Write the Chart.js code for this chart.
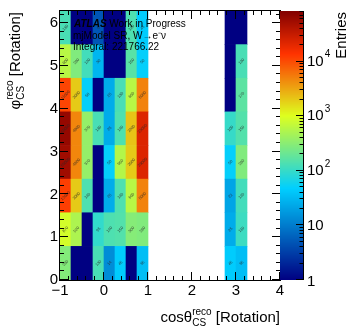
<!DOCTYPE html>
<html>
<head>
<meta charset="utf-8">
<script src="https://cdn.jsdelivr.net/npm/chart.js@4.4.1/dist/chart.umd.min.js"></script>
<style>
  html, body { margin: 0; padding: 0; background: #fff; }
</style>
</head>
<body>
<canvas id="rotation-chart" width="348" height="329"></canvas>
<script>
// cos(theta) bin lower edges, all bins 0.25 wide
const cosLow = [-1, -0.75, -0.5, -0.25, 0, 0.25, 0.5, 0.75, 2.75, 3];
const cosWidth = 0.25;
const phiCount = 8; // phi bins over [0, 2pi]

// entries per phi bin (bottom to top), one value per cos bin
const phiBin1 = [290, 1, 1, 130, 14, 45, 1, 35, 45, 35];
const phiBin2 = [870, 520, 1, 95, 140, 150, 300, 280, 25, 110];
const phiBin3 = [12000, 2000, 140, 1, 25, 140, 600, 5000, 22, 120];
const phiBin4 = [55000, 4800, 370, 1, 50, 560, 2000, 23000, 50, 280];
const phiBin5 = [65000, 4800, 370, 130, 25, 140, 2200, 23000, 100, 150];
const phiBin6 = [11000, 2000, 50, 1, 25, 130, 600, 5000, 1, 170];
const phiBin7 = [600, 280, 120, 30, 1, 1, 160, 50, 1, 130];
const phiBin8 = [130, 1, 1, 5, 1, 1, 140, 45, 1, 1];
const phiBins = [phiBin1, phiBin2, phiBin3, phiBin4, phiBin5, phiBin6, phiBin7, phiBin8];

const xTicks = [-1, 0, 1, 2, 3, 4];
const yTicks = [0, 1, 2, 3, 4, 5, 6];
const zTicks = [1, 10, 100, 1000, 10000];
const zMin = 1;
const zMax = 85000;
const integral = '221766.22';

const FONT = '"Liberation Sans", Arial, sans-serif';

// ATLAS style rainbow palette
const stops = [0.00, 0.34, 0.61, 0.84, 1.00];
const red   = [0.00, 0.00, 0.87, 1.00, 0.51];
const green = [0.00, 0.81, 1.00, 0.20, 0.00];
const blue  = [0.51, 1.00, 0.12, 0.00, 0.00];

function palette(v) {
    let f = Math.log10(Math.max(v, zMin) / zMin) / Math.log10(zMax / zMin);
    f = Math.min(1, Math.max(0, f));
    let k = 0;
    while (k < stops.length - 2 && f > stops[k + 1]) k++;
    const t = (f - stops[k]) / (stops[k + 1] - stops[k]);
    const c = arr => Math.round(255 * (arr[k] + (arr[k + 1] - arr[k]) * t));
    return `rgb(${c(red)},${c(green)},${c(blue)})`;
}

const phiStep = 2 * Math.PI / phiCount;
const datasets = phiBins.map((row, j) => ({
    data: cosLow.map((lo, i) => ({ x: lo + cosWidth / 2, y: [j * phiStep, (j + 1) * phiStep], v: row[i] })),
    backgroundColor: row.map(palette),
    borderWidth: 0,
    barPercentage: 1,
    categoryPercentage: 1,
    grouped: false
}));

// draws text pieces in a row: main, then stacked sup/sub
function drawTitle(ctx, main, x, y, alignRight) {
    const big = `15px ${FONT}`, small = `10px ${FONT}`;
    ctx.font = big;
    const w1 = ctx.measureText(main).width;
    const w3 = ctx.measureText(' [Rotation]').width;
    ctx.font = small;
    const w2 = Math.max(ctx.measureText('reco').width, ctx.measureText('CS').width);
    let px = alignRight ? x - (w1 + w2 + w3) : x;
    ctx.font = big;
    ctx.fillText(main, px, y);
    px += w1;
    ctx.font = small;
    ctx.fillText('reco', px, y - 7);
    ctx.fillText('CS', px, y + 4);
    px += w2;
    ctx.font = big;
    ctx.fillText(' [Rotation]', px, y);
}

const rootLook = {
    id: 'rootLook',
    afterDraw(chart) {
        const { ctx, chartArea: a, scales: { x, y, z } } = chart;
        ctx.save();
        ctx.fillStyle = '#000';
        ctx.strokeStyle = '#000';
        ctx.lineWidth = 1;

        // cell labels
        ctx.font = `4px ${FONT}`;
        ctx.textAlign = 'center';
        ctx.textBaseline = 'middle';
        ctx.fillStyle = 'rgba(40,40,40,0.85)';
        chart.data.datasets.forEach((ds, j) => {
            chart.getDatasetMeta(j).data.forEach((el, i) => {
                const v = ds.data[i].v;
                if (v <= zMin) return;
                ctx.save();
                ctx.translate(el.x, (el.y + el.base) / 2);
                ctx.rotate(-Math.PI / 4);
                ctx.fillText(String(+v.toPrecision(6)), 0, 0);
                ctx.restore();
            });
        });
        ctx.fillStyle = '#000';

        // frame
        ctx.strokeRect(a.left - 0.5, a.top - 0.5, a.width + 1, a.height + 1);

        // ticks, inward on all four sides
        ctx.beginPath();
        for (let k = 0; k <= 25; k++) {
            const px = Math.round(x.getPixelForValue(-1 + k * 0.2)) - 0.5;
            const len = k % 5 === 0 ? 8 : 4;
            ctx.moveTo(px, a.bottom); ctx.lineTo(px, a.bottom - len);
            ctx.moveTo(px, a.top); ctx.lineTo(px, a.top + len);
        }
        for (let k = 0; k <= 31; k++) {
            const py = Math.round(y.getPixelForValue(k * 0.2)) - 0.5;
            const len = k % 5 === 0 ? 8 : 4;
            ctx.moveTo(a.left, py); ctx.lineTo(a.left + len, py);
            ctx.moveTo(a.right, py); ctx.lineTo(a.right - len, py);
        }
        ctx.stroke();

        // colour bar
        const barL = a.right, barW = 23;
        for (let py = Math.floor(z.top); py < z.bottom; py++) {
            ctx.fillStyle = palette(z.getValueForPixel(py + 0.5));
            ctx.fillRect(barL, py, barW, 1);
        }
        ctx.fillStyle = '#000';
        ctx.beginPath();
        ctx.moveTo(barL + barW + 0.5, z.top);
        ctx.lineTo(barL + barW + 0.5, z.bottom);
        for (let d = 0; d < 5; d++) {
            for (let m = 1; m <= 9; m++) {
                const v = m * Math.pow(10, d);
                if (v > zMax) break;
                const py = Math.round(z.getPixelForValue(v)) - 0.5;
                const len = m === 1 ? 7 : 3.5;
                ctx.moveTo(barL + barW, py); ctx.lineTo(barL + barW - len, py);
            }
        }
        ctx.stroke();

        // colour bar labels
        ctx.textAlign = 'left';
        ctx.textBaseline = 'middle';
        zTicks.forEach(v => {
            const py = z.getPixelForValue(v);
            const lx = barL + barW + 4;
            ctx.font = `15px ${FONT}`;
            if (v < 100) {
                ctx.fillText(String(v), lx, v === 1 ? py + 2 : py);
            } else {
                ctx.fillText('10', lx, py);
                const w = ctx.measureText('10').width;
                ctx.font = `10px ${FONT}`;
                ctx.fillText(String(Math.round(Math.log10(v))), lx + w + 1, py - 7);
            }
        });

        // z title
        ctx.save();
        ctx.translate(346, a.top + 1);
        ctx.rotate(-Math.PI / 2);
        ctx.font = `15px ${FONT}`;
        ctx.textAlign = 'right';
        ctx.textBaseline = 'alphabetic';
        ctx.fillText('Entries', 0, 0);
        ctx.restore();

        // axis titles
        ctx.textAlign = 'left';
        ctx.textBaseline = 'alphabetic';
        drawTitle(ctx, 'cos\u03B8', a.right, 322, true);
        ctx.save();
        ctx.translate(20, a.top + 1);
        ctx.rotate(-Math.PI / 2);
        drawTitle(ctx, '\u03C6', 0, 0, true);
        ctx.restore();

        // labels
        ctx.font = `italic bold 10px ${FONT}`;
        ctx.fillText('ATLAS', 74, 27);
        const wa = ctx.measureText('ATLAS ').width;
        ctx.font = `10px ${FONT}`;
        ctx.fillText('Work in Progress', 74 + wa, 27);
        ctx.fillText('mjModel SR, W\u2192e\u207B\u03BD', 73, 38.5);
        ctx.fillText('Integral: ' + integral, 73, 50);
        ctx.restore();
    }
};

const chartCtx = document.getElementById('rotation-chart').getContext('2d');
const rotationChart = new Chart(chartCtx, {
    type: 'bar',
    data: { datasets: datasets },
    options: {
        responsive: false,
        animation: false,
        devicePixelRatio: 1,
        layout: { padding: { top: 4, left: 0, right: 0, bottom: 0 } },
        plugins: {
            legend: { display: false },
            tooltip: { enabled: false },
            title: { display: false }
        },
        scales: {
            x: {
                type: 'linear',
                min: -1,
                max: 4,
                offset: false,
                grid: { display: false, drawTicks: false },
                border: { display: false },
                afterBuildTicks: s => { s.ticks = xTicks.map(v => ({ value: v })); },
                afterFit: s => { s.height = 49; },
                ticks: {
                    autoSkip: false,
                    maxRotation: 0,
                    padding: 2,
                    color: '#000',
                    font: { family: FONT, size: 15 },
                    callback: v => String(v).replace('-', '\u2212')
                }
            },
            y: {
                type: 'linear',
                min: 0,
                max: 2 * Math.PI,
                grid: { display: false, drawTicks: false },
                border: { display: false },
                afterBuildTicks: s => { s.ticks = yTicks.map(v => ({ value: v })); },
                afterFit: s => { s.width = 60; },
                ticks: {
                    autoSkip: false,
                    padding: 2,
                    color: '#000',
                    font: { family: FONT, size: 15 }
                }
            },
            z: {
                type: 'logarithmic',
                position: 'right',
                min: zMin,
                max: zMax,
                grid: { display: false, drawTicks: false },
                border: { display: false },
                ticks: { display: false },
                afterFit: s => { s.width = 68; }
            }
        }
    },
    plugins: [ rootLook ]
});
</script>
</body>
</html>
